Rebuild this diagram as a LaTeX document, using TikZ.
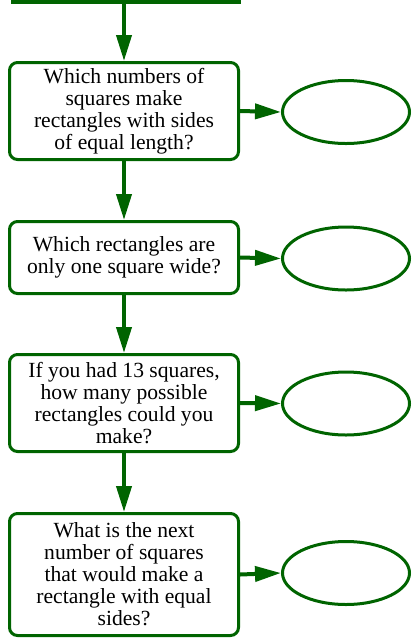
\documentclass[tikz,border=0pt]{standalone}
\usepackage{fontspec}
\setmainfont{Liberation Serif}
\newfontfamily\qfont{Liberation Serif}
\usepackage{xcolor}
\definecolor{qgreen}{HTML}{006400}
\usetikzlibrary{shapes.geometric, arrows.meta, positioning}

\begin{document}
\begin{tikzpicture}[x=0.5pt, y=-0.5pt,
  question/.style={rectangle, rounded corners=4pt, draw=qgreen, line width=1.5pt,
    fill=white, minimum width=114.5pt, align=center, inner sep=2pt,
    font=\qfont\fontsize{10.8}{11}\selectfont},
  answer/.style={ellipse, draw=qgreen, line width=1.5pt, minimum width=63.5pt,
    minimum height=31.5pt, inner sep=0pt},
  flow/.style={-{Triangle[length=13pt, width=7.5pt]}, draw=qgreen, line width=2pt}]
\useasboundingbox (0,0) rectangle (416,639);

% box above, cut off by the page
\begin{scope}
\clip (0,0) rectangle (416,639);
\node[rectangle, draw=qgreen, line width=2pt, minimum width=113pt,
      minimum height=22pt] (topbox) at (125.5,-20) {};
\fill[qgreen] (11,-30) rectangle (50,4);
\end{scope}

\node[question, minimum height=48.5pt] (sqsides) at (124,111) {
  Which numbers of\\
  squares make\\
  rectangles with sides\\
  of equal length?};
\node[question, minimum height=36pt] (onewide) at (124,257.5) {
  Which rectangles are\\
  only one square wide?};
\node[question, minimum height=48.5pt] (thirteen) at (124,403) {
  If you had 13 squares,\\
  how many possible\\
  rectangles could you\\
  make?};
\node[question, minimum height=61pt] (nextsq) at (124,574.5) {
  What is the next\\
  number of squares\\
  that would make a\\
  rectangle with equal\\
  sides?};

\node[answer] (ans1) at (346,112) {};
\node[answer] (ans2) at (346,258.5) {};
\node[answer] (ans3) at (346,403.5) {};
\node[answer] (ans4) at (346,573) {};

\draw[flow] (topbox.south -| sqsides.north) -- (sqsides.north);
\draw[flow] (sqsides) -- (onewide);
\draw[flow] (onewide) -- (thirteen);
\draw[flow] (thirteen) -- (nextsq);

\draw[flow] (sqsides.east) -- (ans1.west);
\draw[flow] (onewide.east) -- (ans2.west);
\draw[flow] (thirteen.east) -- (ans3.west);
\draw[flow] (nextsq.east) -- (ans4.west);
\end{tikzpicture}
\end{document}
